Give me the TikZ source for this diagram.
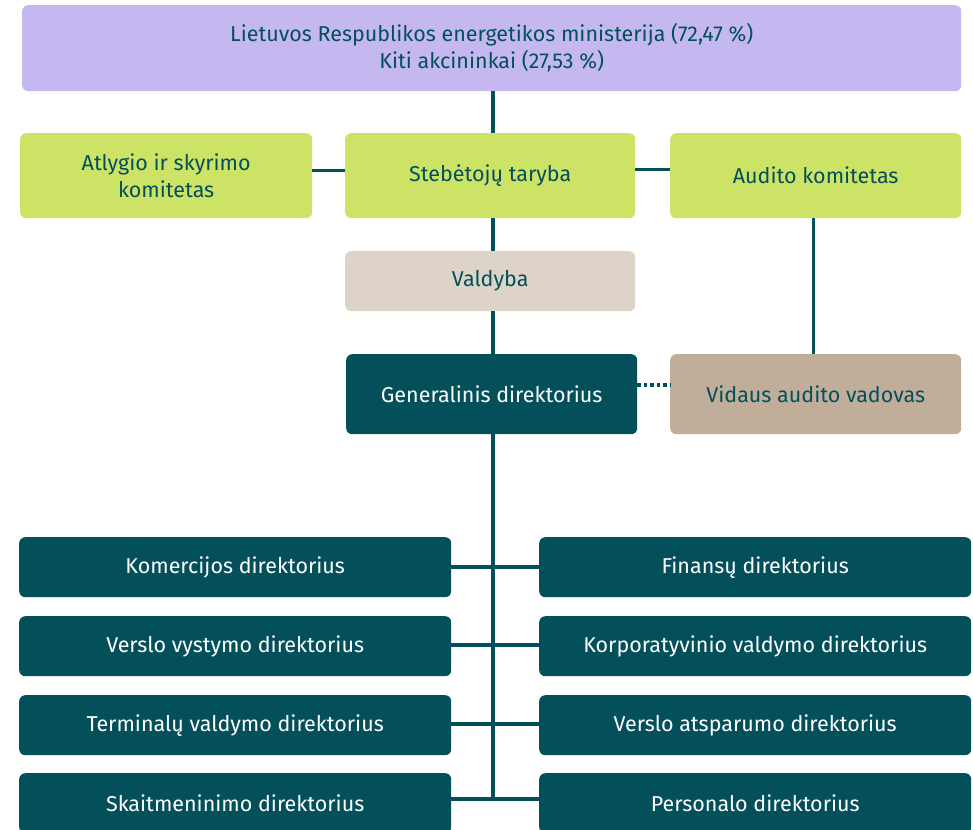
\documentclass[tikz,border=0pt]{standalone}
\usepackage{fontspec}
\setmainfont{Fira Sans}
\definecolor{teal}{HTML}{03505B}
\definecolor{lilac}{HTML}{C5B8F0}
\definecolor{lime}{HTML}{CDE365}
\definecolor{sand}{HTML}{DDD3C8}
\definecolor{tan}{HTML}{C0AD9A}
\tikzset{
  box/.style={anchor=north west, rounded corners=6pt, inner sep=0pt, align=center,
    font=\fontsize{21.5}{27}\selectfont, text=teal},
  darkbox/.style={box, fill=teal, text=white},
  conn/.style={draw=teal, line width=3.5pt},
  dotconn/.style={draw=teal, line width=3.5pt, dash pattern=on 3.5pt off 3pt},
}
\begin{document}
\begin{tikzpicture}[x=1pt,y=-1pt]
\useasboundingbox (0,0) rectangle (973,829);
\clip (0,0) rectangle (973,829);
\node[box, fill=lilac, minimum width=939pt, minimum height=86pt] (top) at (22,5)
  {Lietuvos Respublikos energetikos ministerija (72,47 \%)\\Kiti akcininkai (27,53 \%)};
\node[box, fill=lime, minimum width=292pt, minimum height=85pt] (atl) at (20,133) {Atlygio ir skyrimo\\komitetas};
\node[box, fill=lime, minimum width=290pt, minimum height=85pt] (steb) at (345,133) {Stebėtojų taryba};
\node[box, fill=lime, minimum width=291pt, minimum height=85pt] (aud) at (670,133) {Audito komitetas};
\node[box, fill=sand, minimum width=290pt, minimum height=60pt] (vald) at (345,251) {Valdyba};
\node[darkbox, minimum width=291pt, minimum height=80pt] (gen) at (346,354) {Generalinis direktorius};
\node[box, fill=tan, minimum width=291pt, minimum height=80pt] (vid) at (670,354) {Vidaus audito vadovas};

\node[darkbox, minimum width=432pt, minimum height=60pt] (l1) at (19,537) {Komercijos direktorius};
\node[darkbox, minimum width=432pt, minimum height=60pt] (l2) at (19,616) {Verslo vystymo direktorius};
\node[darkbox, minimum width=432pt, minimum height=60pt] (l3) at (19,695) {Terminalų valdymo direktorius};
\node[darkbox, minimum width=432pt, minimum height=60pt] (l4) at (19,773) {Skaitmeninimo direktorius};
\node[darkbox, minimum width=432pt, minimum height=60pt] (r1) at (539,537) {Finansų direktorius};
\node[darkbox, minimum width=432pt, minimum height=60pt] (r2) at (539,616) {Korporatyvinio valdymo direktorius};
\node[darkbox, minimum width=432pt, minimum height=60pt] (r3) at (539,695) {Verslo atsparumo direktorius};
\node[darkbox, minimum width=432pt, minimum height=60pt] (r4) at (539,773) {Personalo direktorius};

\coordinate (trunkend) at (493,799);

\draw[conn] (top.south -| trunkend) -- (steb.north -| trunkend);
\draw[conn] (steb.south -| trunkend) -- (vald.north -| trunkend);
\draw[conn] (vald.south -| trunkend) -- (gen.north -| trunkend);
\draw[conn] (gen.south -| trunkend) -- (trunkend);
\draw[conn] ([yshift=5pt]atl.east) -- ([yshift=5pt]steb.west);
\draw[conn] ([yshift=6pt]steb.east) -- ([yshift=6pt]aud.west);
\draw[conn] ([xshift=-2pt]aud.south) -- ([xshift=-2pt]vid.north);
\draw[dotconn] ([yshift=9pt]gen.east) -- ([yshift=9pt]vid.west);
\draw[conn] (l1.east) -- (r1.west);
\draw[conn] ([yshift=1pt]l2.east) -- ([yshift=1pt]r2.west);
\draw[conn] ([yshift=1pt]l3.east) -- ([yshift=1pt]r3.west);
\draw[conn] (l4.east |- trunkend) -- (r4.west |- trunkend);
\end{tikzpicture}
\end{document}
